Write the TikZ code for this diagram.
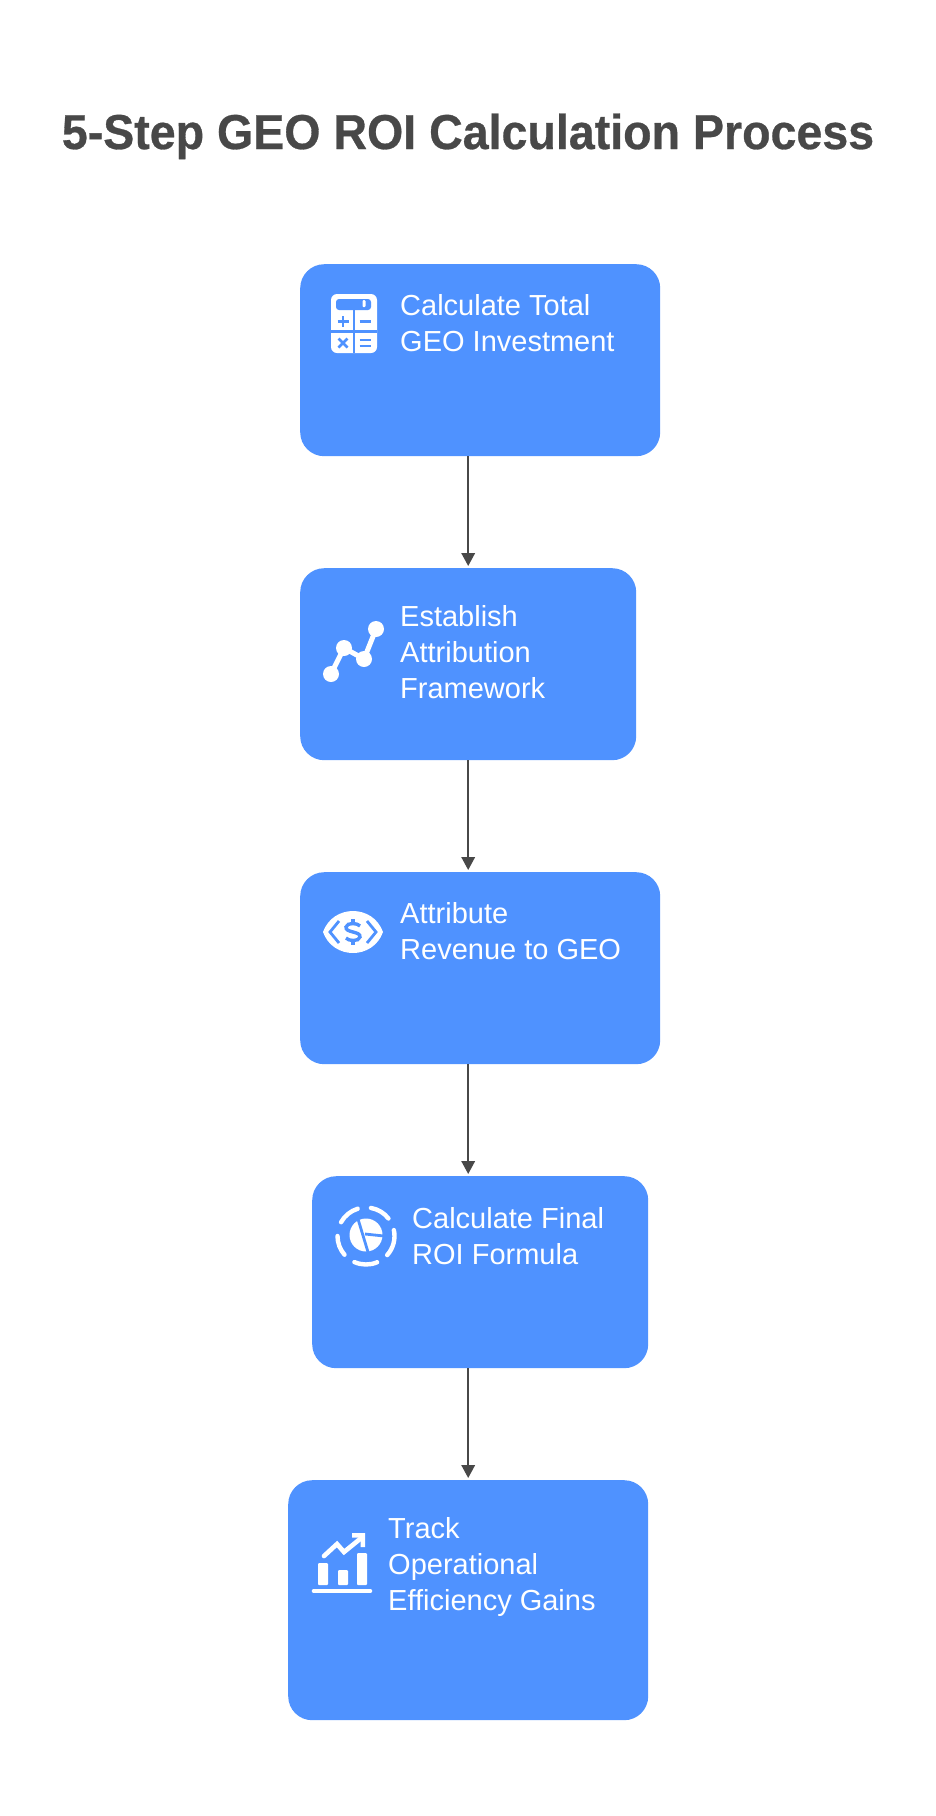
\documentclass[tikz,border=0pt]{standalone}
\usepackage{fontspec}
\setmainfont{Liberation Sans}
\newfontfamily\titlefont[FakeStretch=0.95,FakeBold=0.6]{Liberation Sans Bold}
\usetikzlibrary{arrows.meta}
\definecolor{stepblue}{HTML}{4F92FF}
\definecolor{inkgray}{HTML}{484848}
\tikzset{
  stepbox/.style={fill=stepblue,rounded corners=24pt,anchor=north west,minimum height=192pt,inner sep=0pt},
  steptext/.style={text=white,anchor=north west,align=left,inner sep=0pt,font=\fontsize{29}{36}\selectfont},
  flow/.style={draw=inkgray,line width=2pt,shorten >=2pt,-{Triangle[length=13pt,width=13.5pt]}},
  iconfill/.style={fill=white,draw=none},
  iconline/.style={draw=white,line width=4.4pt,line cap=round},
  icongap/.style={draw=stepblue,line width=2.8pt},
}

\begin{document}
\begin{tikzpicture}[x=1pt,y=-1pt]
\useasboundingbox (0,0) rectangle (936,1816);

\node[anchor=base,inkgray,inner sep=0pt,font=\fontsize{49}{58}\selectfont\titlefont] (title) at (468,149) {5-Step GEO ROI Calculation Process};

\node[stepbox,minimum width=360pt] (calcbox) at (300,264) {};
\node[stepbox,minimum width=336pt] (framebox) at (300,568) {};
\node[stepbox,minimum width=360pt] (revenuebox) at (300,872) {};
\node[stepbox,minimum width=336pt] (roibox) at (312,1176) {};
\node[stepbox,minimum width=360pt,minimum height=240pt] (trackbox) at (288,1480) {};

\node[steptext] (calctext) at (400,294) {Calculate Total\\GEO Investment};
\node[steptext] (frametext) at (400,605) {Establish\\Attribution\\Framework};
\node[steptext] (revenuetext) at (400,902) {Attribute\\Revenue to GEO};
\node[steptext] (roitext) at (412,1207) {Calculate Final\\ROI Formula};
\node[steptext] (tracktext) at (388,1517) {Track\\Operational\\Efficiency Gains};

\draw[flow] (framebox.north |- calcbox.south) -- (framebox.north);
\draw[flow] (framebox.south) -- (framebox.south |- revenuebox.north);
\draw[flow] (framebox.south |- revenuebox.south) -- (framebox.south |- roibox.north);
\draw[flow] (trackbox.north |- roibox.south) -- (trackbox.north);

% calculator
\fill[iconfill,rounded corners=6pt] (331,294) rectangle (377,353);
\fill[stepblue,rounded corners=3pt] (336,299) rectangle (371,310);
\fill[iconfill,rounded corners=1pt] (362.5,300) rectangle (365.5,307);
\draw[icongap] (331,331.5) -- (377,331.5);
\draw[icongap] (354,309) -- (354,353);
\draw[icongap] (337.5,321.5) -- (348.5,321.5) (343,316) -- (343,327);
\draw[icongap] (359.5,321.5) -- (370.5,321.5);
\draw[icongap] (338.5,338.5) -- (347.5,347.5) (347.5,338.5) -- (338.5,347.5);
\draw[icongap] (359.5,340) -- (370.5,340) (359.5,346) -- (370.5,346);

% attribution graph
\draw[iconline,line width=5pt] (331,674) -- (344,648) -- (364,659) -- (376,629);
\foreach \px/\py in {331/674,344/648,364/659,376/629}
  \fill[iconfill] (\px,\py) circle (8pt);

% eye with dollar
\fill[iconfill] (323,932) .. controls (333,904) and (373,904) .. (383,932) .. controls (373,960) and (333,960) .. (323,932);
\draw[icongap] (339,921) -- (330,932) -- (339,943);
\draw[icongap] (367,921) -- (376,932) -- (367,943);
\draw[icongap,line width=3.4pt] (360,926) .. controls (358,923) and (347,922) .. (346,927) .. controls (345,933) and (361,931) .. (360,937) .. controls (359,942) and (348,941) .. (346,938);
\draw[icongap,line width=3.4pt] (353,919) -- (353,924) (353,940) -- (353,945);

% dashed pie
\coordinate (piemid) at (366,1236);
\foreach \a/\b in {80/38,12/-42,-67/-114,-139/-180,151/107}
  \draw[iconline] ([shift={(\a:28.5pt)}]piemid) arc[start angle=\a,end angle=\b,radius=28.5pt];
\fill[iconfill] (366,1235) circle (16.5pt);
\draw[icongap] (358,1219) -- (368,1252);
\draw[icongap] (365,1234) -- (384,1236);

% rising chart
\fill[iconfill,rounded corners=1pt] (318,1563) rectangle (328,1585);
\fill[iconfill,rounded corners=1pt] (338,1570) rectangle (348,1585);
\fill[iconfill,rounded corners=1pt] (357,1553) rectangle (367,1585);
\draw[iconline,line width=4.6pt] (314,1591) -- (370,1591);
\draw[iconline,line width=4.6pt] (324,1556) -- (337,1544) -- (344,1552) -- (360,1539);
\fill[iconfill] (352,1533) -- (365,1533) -- (365,1547) -- (360.5,1547) -- (360.5,1537.5) -- (352,1537.5) -- cycle;
\end{tikzpicture}
\end{document}
